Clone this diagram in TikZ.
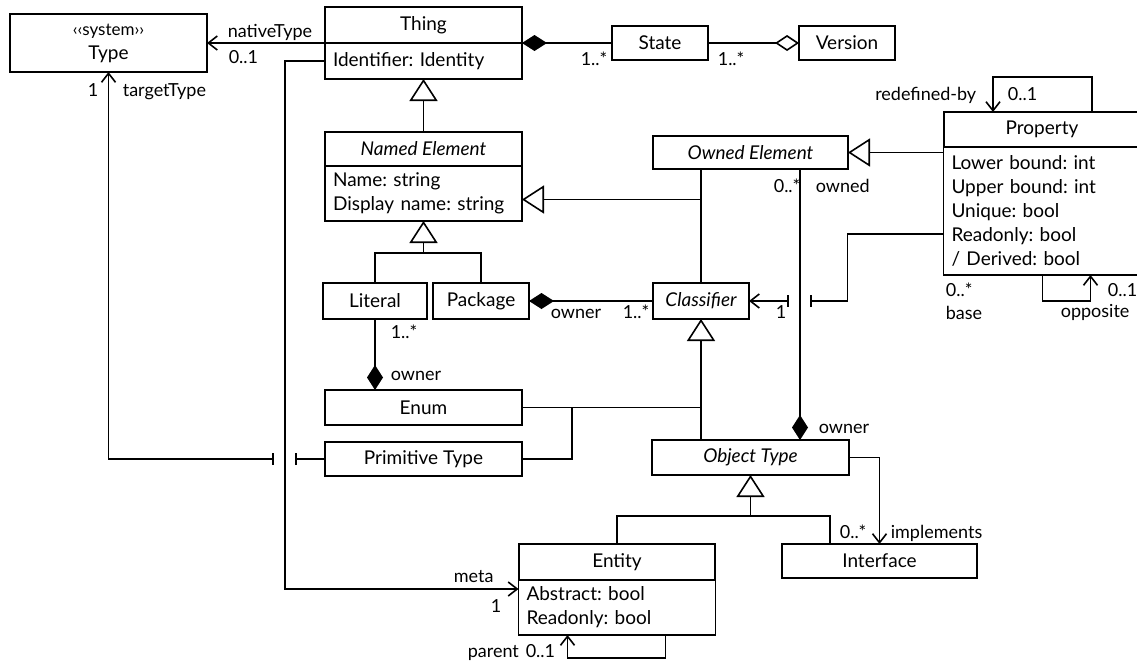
\documentclass[tikz,border=0pt]{standalone}
\usepackage{fontspec}
\setmainfont{Lato}
\usetikzlibrary{arrows.meta, positioning, calc}
\frenchspacing

\begin{document}
\begin{tikzpicture}[
      x=1pt, y=-1pt,
      line width=1.6pt,
      every node/.style={font=\fontsize{19}{24}\selectfont},
      cls/.style={rectangle, draw, minimum width=197pt, minimum height=35pt, inner sep=0pt, outer sep=0pt, align=center},
      abst/.style={cls, font=\fontsize{19}{24}\selectfont\itshape},
      attrs/.style={rectangle, draw, text width=181pt, inner xsep=8pt, inner ysep=0pt, outer sep=0pt, align=left},
      lbl/.style={anchor=base west, inner sep=0pt, font=\fontsize{18}{20}\selectfont},
      gen/.style={-{Triangle[open, length=22pt, width=28pt]}},
      nav/.style={-{Straight Barb[length=9pt, width=14pt]}},
      comp/.style={{Diamond[length=25pt, width=16pt]}-},
      agg/.style={-{Diamond[open, length=24pt, width=16pt]}},
      bar/.style={-{Bar[width=12pt]}},
      jump/.style={{Bar[width=12pt]}-{Straight Barb[length=9pt, width=14pt]}}
    ]
    \useasboundingbox (0,0) rectangle (1137,664);

    \node[cls, minimum height=58pt] (type) at (108.5,43) {{\fontsize{17}{16}\selectfont ‹‹system››}\\Type};
    \node[cls, minimum height=36pt] (thing) at (423.5,25) {Thing};
    \node[attrs, minimum height=36pt, below=0pt of thing] (thingatt) {Identifier: Identity};
    \node[cls, minimum width=96pt, minimum height=34pt] (state) at (660,43) {State};
    \node[cls, minimum width=96pt, minimum height=34pt, right=91pt of state] (version) {Version};

    \node[abst, minimum height=34pt] (named) at (423.5,149) {Named Element};
    \node[attrs, minimum height=55pt, below=0pt of named] (neattr) {Name: string\\Display name: string};
    \node[abst, minimum width=195pt, minimum height=33pt] (owned) at (750.5,152.5) {Owned Element};
    \node[cls, minimum width=196pt] (prop) at (1042,129.5) {Property};
    \node[attrs, minimum height=128pt, below=0pt of prop] (propattr) {Lower bound: int\\Upper bound: int\\Unique: bool\\Readonly: bool\\/ Derived: bool};

    \node[cls, minimum width=104pt, minimum height=36pt] (literal) at (375,301) {Literal};
    \node[cls, minimum width=96pt, minimum height=36pt, right=6pt of literal] (package) {Package};
    \node[abst, minimum width=96pt, minimum height=36pt] (classifier) at (701,301) {Classifier};
    \node[cls] (enum) at (423.5,407.5) {Enum};
    \node[cls, minimum height=34pt, below=17pt of enum] (prim) {Primitive Type};
    \node[abst] (otype) at (750.5,457.5) {Object Type};

    \node[cls, minimum width=196pt, minimum height=36pt] (entity) at (617,562) {Entity};
    \node[attrs, minimum height=55pt, below=0pt of entity] (entattr) {Abstract: bool\\Readonly: bool};
    \node[cls, minimum width=195pt, minimum height=34pt] (iface) at (879.5,561) {Interface};

    \coordinate (ownJoin) at ($(classifier.north |- neattr.east)+(0,6)$);
    \coordinate (ownedX) at ([xshift=148pt]otype.north west);
    \coordinate (neBr) at ($(neattr.south)+(0,32)$);
    \coordinate (clsJoin) at (classifier.south |- enum.east);
    \coordinate (otBr) at ($(otype.south)+(0,41)$);
    \coordinate (metaTurn) at (285,589);
    \coordinate (jumpTL) at (274,459);
    \coordinate (jumpTR) at (295,459);
    \coordinate (propBase) at ($(propattr.north west)+(0,87)$);
    \coordinate (jumpCL) at (789,301);
    \coordinate (jumpCR) at (810,301);

    \draw[nav] (thing.south west) -- (type.east);
    \draw[comp] (thing.south east) -- (state.west);
    \draw[agg] (state.east) -- (version.west);
    \draw[gen] (named.north) -- (thingatt.south);

    \draw[gen] (classifier.north) -- (ownJoin) -- (ownJoin -| neattr.east);
    \draw (classifier.north |- owned.south) -- (ownJoin);
    \draw[gen] (owned.east -| propattr.west) -- (owned.east);
    \draw[comp] (ownedX) -- (ownedX |- owned.south);

    \draw[gen] (literal.north) |- (neBr) -- (neattr.south);
    \draw (package.north) |- (neBr);
    \draw[comp] (package.east) -- (classifier.west);
    \draw[comp] (literal.south |- enum.north) -- (literal.south);

    \draw[gen] (enum.east) -- (clsJoin) -- (classifier.south);
    \draw (prim.east) -- ++(50,0) |- (clsJoin);
    \draw (otype.north -| clsJoin) -- (clsJoin);

    \draw[gen] (entity.north) |- (otBr) -- (otype.south);
    \draw ([xshift=48pt]iface.north west) |- (otBr);
    \draw[nav] (otype.east) -| (iface.north);

    \draw[nav] (thingatt.west) -| (metaTurn) -- (metaTurn -| entattr.west);
    \draw[bar] (prim.west) -- (jumpTR);
    \draw[jump] (jumpTL) -| (type.south);
    \draw[bar] (propBase) -- ++(-96,0) |- (jumpCR);
    \draw[jump] (jumpCL) -- (classifier.east);

    % self associations
    \draw[nav] ([xshift=148pt]prop.north west) -- ++(0,-35) -| ([xshift=49pt]prop.north west);
    \draw[nav] ([xshift=99pt]propattr.south west) -- ++(0,26) -| ([xshift=147pt]propattr.south west);
    \draw[nav] ([xshift=-50pt]entattr.south east) -- ++(0,23) -| ([xshift=49pt]entattr.south west);

    \node[lbl] (lNative) at (227,37) {nativeType};
    \node[lbl] (lNativeM) at (228,63) {0..1};
    \node[lbl] (lTargetM) at (87,96) {1};
    \node[lbl] (lTarget) at (122,96) {targetType};
    \node[lbl] (lStateL) at (580,65) {1..*};
    \node[lbl] (lStateR) at (717,65) {1..*};
    \node[lbl, anchor=base east] (lRedef) at (977,100) {redefined-by};
    \node[lbl] (lRedefM) at (1007,100) {0..1};
    \node[lbl] (lOwnedM) at (773,192) {0..*};
    \node[lbl] (lOwned) at (815,192) {owned};
    \node[lbl] (lBaseM) at (945,296) {0..*};
    \node[lbl] (lBase) at (945,319) {base};
    \node[lbl] (lOppM) at (1107,296) {0..1};
    \node[lbl] (lOpp) at (1060,317) {opposite};
    \node[lbl] (lClsM) at (775,318) {1};
    \node[lbl] (lPkgOwner) at (550,318) {owner};
    \node[lbl] (lPkgM) at (622,318) {1..*};
    \node[lbl] (lLitM) at (390,338) {1..*};
    \node[lbl] (lEnumOwner) at (390,380) {owner};
    \node[lbl] (lOtOwner) at (818,433) {owner};
    \node[lbl] (lImplM) at (839,538) {0..*};
    \node[lbl] (lImpl) at (890,538) {implements};
    \node[lbl] (lMeta) at (453,582) {meta};
    \node[lbl] (lMetaM) at (490,612) {1};
    \node[lbl] (lParent) at (467,657) {parent};
    \node[lbl] (lParentM) at (525,657) {0..1};
  \end{tikzpicture}
\end{document}
